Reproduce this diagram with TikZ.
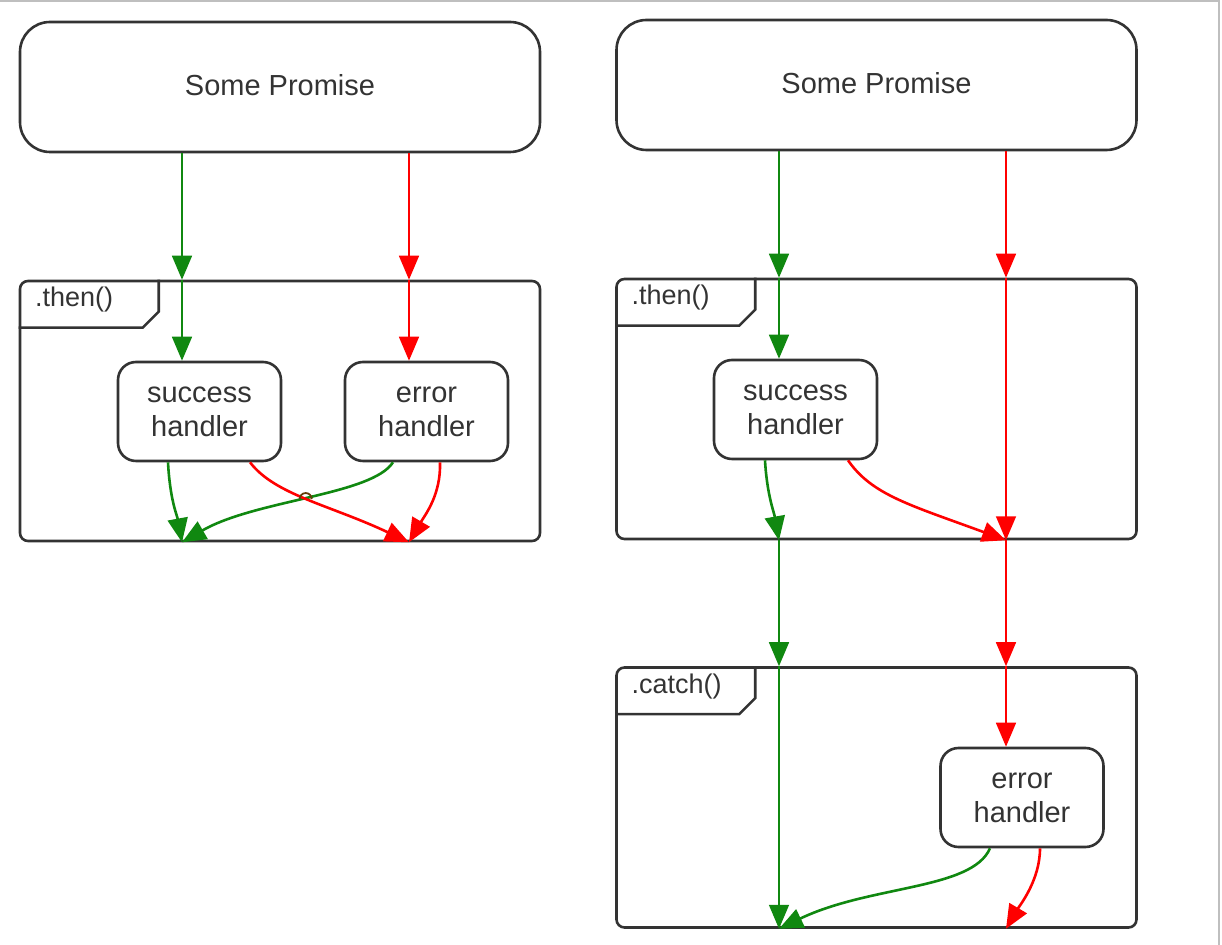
\documentclass[tikz,border=0pt]{standalone}
\usepackage{fontspec}
\setmainfont{Liberation Sans}
\usetikzlibrary{arrows.meta,intersections}

\definecolor{okgreen}{RGB}{16,136,16}
\definecolor{errred}{RGB}{255,0,0}
\definecolor{boxgray}{RGB}{51,51,51}

\tikzset{
  promise/.style={draw=boxgray,line width=1.3pt,rounded corners=15pt,
    minimum width=260pt,minimum height=65pt,text=boxgray,
    font=\fontsize{14.5}{17}\selectfont},
  frame/.style={draw=boxgray,line width=1.3pt,rounded corners=4pt,
    minimum width=260pt,minimum height=130pt},
  handler/.style={draw=boxgray,line width=1.3pt,rounded corners=9pt,
    minimum width=81.5pt,minimum height=49.5pt,align=center,text=boxgray,
    font=\fontsize{14.5}{17}\selectfont},
  flow/.style={line width=0.8pt,-{Triangle[width=10pt,length=12pt]}},
  ok/.style={flow,okgreen},
  err/.style={flow,errred},
  curvy/.style={line width=1.3pt},
}

% tab in the upper left corner of a frame
\newcommand{\frametab}[2]{%
  \draw[boxgray,line width=1.3pt] (#1.north west) ++(70pt,0) -- ++(0,-16pt)
    -- ++(-8pt,-8pt) -- ++(-62pt,0);
  \node[anchor=west,inner sep=0pt,text=boxgray,font=\fontsize{13.5}{16}\selectfont]
    at ([xshift=8pt,yshift=-10pt]#1.north west) {#2};
}

\begin{document}
\begin{tikzpicture}[x=0.5pt,y=-0.5pt]
  \useasboundingbox (0,0) rectangle (1222,945);
  \draw[gray!50,line width=0.8pt] (0,1) -- (1219,1) -- (1219,945);

  % left: then with both handlers
  \node[promise] (p1) at (280,87) {\raisebox{2pt}{Some Promise}};
  \node[frame] (f1) at (280,411) {};
  \frametab{f1}{.then()}
  \node[handler] (s1) at (199.5,411.5) {success\\handler};
  \node[handler] (e1) at (426.5,411.5) {error\\handler};
  \coordinate (gL) at (182,0);
  \coordinate (rL) at (409,0);

  \draw[ok] (p1.south -| gL) -- (f1.north -| gL);
  \draw[ok] (f1.north -| gL) -- (s1.north -| gL);
  \draw[err] (p1.south -| rL) -- (f1.north -| rL);
  \draw[err] (f1.north -| rL) -- (e1.north -| rL);

  \draw[ok,curvy] ([xshift=-15.75pt]s1.south) .. controls (170,500) and (177,515) .. (f1.south -| gL);
  \draw[ok,curvy,name path=ge1] ([xshift=-16.75pt]e1.south) .. controls (372,495) and (255,500) .. (f1.south -| gL);
  \draw[err,curvy,name path=rs1] ([xshift=25.25pt]s1.south) .. controls (275,495) and (330,505) .. (f1.south -| rL);
  \draw[err,curvy] ([xshift=6.75pt]e1.south) .. controls (441,495) and (425,515) .. (f1.south -| rL);
  \path[name intersections={of=ge1 and rs1,by=hop}];
  \draw[red!45!okgreen!80!black,line width=0.9pt] ([xshift=-3pt]hop) arc[start angle=180,end angle=0,radius=3pt];

  % right: then with success handler, then catch
  \node[promise] (p2) at (876.5,85) {\raisebox{2pt}{Some Promise}};
  \node[frame] (f2) at (876.5,409) {};
  \frametab{f2}{.then()}
  \node[handler] (s2) at (795.5,409.5) {success\\handler};
  \node[frame] (f3) at (876.5,797.5) {};
  \frametab{f3}{.catch()}
  \node[handler] (e3) at (1022,797.5) {error\\handler};
  \coordinate (gR) at (779,0);
  \coordinate (rR) at (1006,0);

  \draw[ok] (p2.south -| gR) -- (f2.north -| gR);
  \draw[ok] (f2.north -| gR) -- (s2.north -| gR);
  \draw[err] (p2.south -| rR) -- (f2.north -| rR);
  \draw[err] (f2.north -| rR) -- (f2.south -| rR);
  \draw[ok,curvy] ([xshift=-15.25pt]s2.south) .. controls (767,495) and (774,512) .. (f2.south -| gR);
  \draw[err,curvy] ([xshift=26.25pt]s2.south) .. controls (872,495) and (910,505) .. (f2.south -| rR);

  \draw[ok] (f2.south -| gR) -- (f3.north -| gR);
  \draw[err] (f2.south -| rR) -- (f3.north -| rR);
  \draw[ok] (f3.north -| gR) -- (f3.south -| gR);
  \draw[err] (f3.north -| rR) -- (e3.north -| rR);
  \draw[ok,curvy] ([xshift=-16pt]e3.south) .. controls (972,890) and (870,885) .. (f3.south -| gR);
  \draw[err,curvy] ([xshift=9pt]e3.south) .. controls (1040,880) and (1020,905) .. (f3.south -| rR);
\end{tikzpicture}
\end{document}
